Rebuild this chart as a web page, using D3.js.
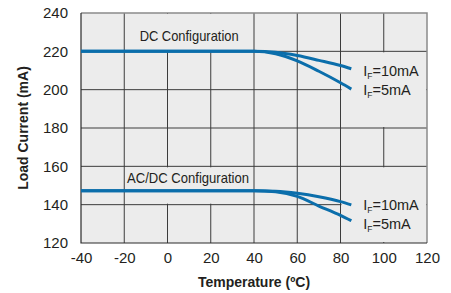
<!DOCTYPE html>
<html>
<head>
<meta charset="utf-8">
<script src="https://cdn.jsdelivr.net/npm/d3@7/dist/d3.min.js"></script>
<style>
  body { margin: 0; background: #fff; }
  svg text { font-family: "Liberation Sans", Arial, Helvetica, sans-serif; fill: #231f20; }
</style>
</head>
<body>
<svg class="chart"></svg>
<script>
// temperature (C) and load current (mA)
var temps = [-40, 40, 50, 60, 70, 80, 85];
var dc10 = [220, 220, 219.5, 217.8, 215.3, 212.6, 210.9];
var dc5 = [220, 220, 218.7, 215, 209.6, 203.6, 200.3];
var acdc10 = [147.3, 147.3, 147, 145.9, 144.1, 141.6, 139.9];
var acdc5 = [147.3, 147.3, 146.7, 144.3, 139.3, 134.4, 131.6];

var xTicks = [-40, -20, 0, 20, 40, 60, 80, 100, 120];
var yTicks = [120, 140, 160, 180, 200, 220, 240];

var W = 451, H = 293;
var margin = {top: 13, right: 24, bottom: 50, left: 81};
var w = W - margin.left - margin.right,
    h = H - margin.top - margin.bottom;

var chart = d3.select('.chart').attr('width', W).attr('height', H);
var g = chart.append('g').attr('transform', 'translate(' + margin.left + ',' + margin.top + ')');

var x = d3.scaleLinear().domain([-40, 120]).range([0, w]);
var y = d3.scaleLinear().domain([120, 240]).range([h, 0]);

var bg = '#ececec';
g.append('rect').attr('width', w).attr('height', h).attr('fill', bg);

// grid
g.selectAll('line.vg').data(xTicks.slice(1, -1)).enter().append('line')
    .attr('class', 'vg')
    .attr('x1', function (d) { return x(d); }).attr('x2', function (d) { return x(d); })
    .attr('y1', 0).attr('y2', h)
    .attr('stroke', '#3c3c3c').attr('stroke-width', 1);
g.selectAll('line.hg').data(yTicks.slice(1, -1)).enter().append('line')
    .attr('class', 'hg')
    .attr('x1', 0).attr('x2', w)
    .attr('y1', function (d) { return y(d); }).attr('y2', function (d) { return y(d); })
    .attr('stroke', '#3c3c3c').attr('stroke-width', 1);

// blank patches behind the labels (grid is cut there)
var gaps = [[-20, 40, 240, 220], [-20, 40, 160, 140], [80, 120, 220, 180], [80, 120, 160, 120]];
g.selectAll('rect.gap').data(gaps).enter().append('rect')
    .attr('x', function (d) { return x(d[0]) + 1; })
    .attr('y', function (d) { return y(d[2]) + 1; })
    .attr('width', function (d) { return x(d[1]) - x(d[0]) - 2; })
    .attr('height', function (d) { return y(d[3]) - y(d[2]) - 2; })
    .attr('fill', bg);

// frame
g.append('path').attr('d', 'M0,0H' + w + 'V' + h)
    .attr('fill', 'none').attr('stroke', '#8a8a8a').attr('stroke-width', 1.5);
g.append('path').attr('d', 'M0,0V' + h + 'H' + w)
    .attr('fill', 'none').attr('stroke', '#2a2a2a').attr('stroke-width', 1.2);

// curves
var line = d3.line()
    .x(function (d) { return x(d[0]); })
    .y(function (d) { return y(d[1]); })
    .curve(d3.curveMonotoneX);
[dc10, dc5, acdc10, acdc5].forEach(function (s) {
    g.append('path').datum(d3.zip(temps, s))
        .attr('d', line)
        .attr('fill', 'none').attr('stroke', '#0b6eab').attr('stroke-width', 3);
});

// axes (plain hyphen for negatives, like the original)
var fmt = function (d) { return String(d); };
var xAxis = g.append('g').attr('transform', 'translate(0,' + h + ')')
    .call(d3.axisBottom(x).tickValues(xTicks).tickFormat(fmt).tickSize(0).tickPadding(9));
var yAxis = g.append('g')
    .call(d3.axisLeft(y).tickValues(yTicks).tickFormat(fmt).tickSize(0).tickPadding(13));
[xAxis, yAxis].forEach(function (a) {
    a.select('.domain').remove();
    a.selectAll('text').attr('font-size', 15)
        .attr('font-family', '"Liberation Sans", Arial, sans-serif').attr('fill', '#231f20');
});

// labels
g.append('text').attr('x', x(10)).attr('y', y(228.2)).attr('text-anchor', 'middle')
    .attr('dominant-baseline', 'central').attr('font-size', 14.5)
    .attr('textLength', 99).attr('lengthAdjust', 'spacingAndGlyphs')
    .text('DC Configuration');
g.append('text').attr('x', x(9.5)).attr('y', y(153.9)).attr('text-anchor', 'middle')
    .attr('dominant-baseline', 'central').attr('font-size', 14.5)
    .attr('textLength', 122).attr('lengthAdjust', 'spacingAndGlyphs')
    .text('AC/DC Configuration');

var ifLabels = [[210, '10mA'], [200, '5mA'], [140, '10mA'], [130, '5mA']];
ifLabels.forEach(function (d) {
    var t = g.append('text').attr('x', x(90.5)).attr('y', y(d[0]) + 5)
        .attr('font-size', 14.5);
    t.append('tspan').text('I');
    t.append('tspan').attr('font-size', 8.5).attr('dy', 3).text('F');
    t.append('tspan').attr('dy', -3).text('=' + d[1]);
});

chart.append('text').attr('x', margin.left + w / 2).attr('y', H - 6)
    .attr('text-anchor', 'middle').attr('font-size', 14).attr('font-weight', 'bold')
    .text('Temperature (ºC)');
chart.append('text')
    .attr('transform', 'translate(28,' + (margin.top + h / 2) + ') rotate(-90)')
    .attr('text-anchor', 'middle').attr('font-size', 14).attr('font-weight', 'bold')
    .text('Load Current (mA)');
</script>
</body>
</html>
